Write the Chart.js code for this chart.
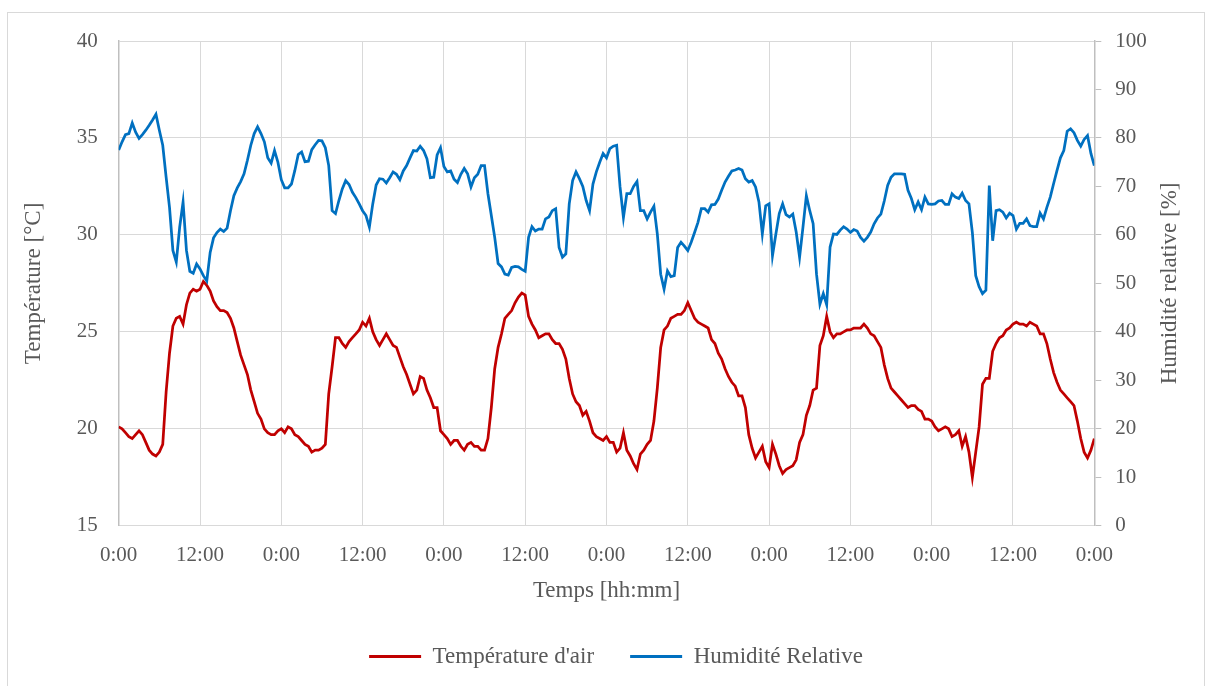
<!DOCTYPE html>
<html>
<head>
<meta charset="utf-8">
<script src="https://cdn.jsdelivr.net/npm/chart.js@4.4.1/dist/chart.umd.min.js"></script>
<style>
  html, body { margin: 0; padding: 0; background: #ffffff; }
  #wrap { position: relative; width: 1213px; height: 686px; overflow: hidden; }
  #frame { position: absolute; left: 7px; top: 12px; width: 1198px; height: 690px; border: 1px solid #d9d9d9; box-sizing: border-box; }
  #c { position: absolute; left: 0; top: 0; }
</style>
</head>
<body>
<div id="wrap">
  <div id="frame"></div>
  <canvas id="c" width="1213" height="686"></canvas>
</div>
<script>
// ---- data (one reading every 30 minutes, 6 days) ----
const stepHours = 0.5;
const tickLabels = ['0:00','12:00','0:00','12:00','0:00','12:00','0:00','12:00','0:00','12:00','0:00','12:00','0:00'];
const seriesNames = ["Température d'air", 'Humidité Relative'];
const axisTitles = { x: 'Temps [hh:mm]', left: 'Température [°C]', right: 'Humidité relative [%]' };

const temperature = [
  20.1,20.0,19.8,19.6,19.5,19.7,19.9,19.7,19.3,18.9,18.7,18.6,18.8,19.2,21.9,23.9,25.3,25.7,25.8,25.4,26.4,27.0,27.2,27.1,27.2,27.6,27.4,27.1,26.6,26.3,26.1,26.1,26.0,25.7,25.2,24.5,
  23.8,23.3,22.8,22.0,21.4,20.8,20.5,20.0,19.8,19.7,19.7,19.9,20.0,19.8,20.1,20.0,19.7,19.6,19.4,19.2,19.1,18.8,18.9,18.9,19.0,19.2,21.8,23.2,24.7,24.7,24.4,24.2,24.5,24.7,24.9,25.1,
  25.5,25.3,25.7,25.0,24.6,24.3,24.6,24.9,24.6,24.3,24.2,23.7,23.2,22.8,22.3,21.8,22.0,22.7,22.6,22.0,21.6,21.1,21.1,19.9,19.7,19.5,19.2,19.4,19.4,19.1,18.9,19.2,19.3,19.1,19.1,18.9,
  18.9,19.5,21.1,23.1,24.2,24.9,25.7,25.9,26.1,26.5,26.8,27.0,26.9,25.8,25.4,25.1,24.7,24.8,24.9,24.9,24.6,24.4,24.4,24.1,23.6,22.6,21.8,21.4,21.2,20.7,20.9,20.4,19.8,19.6,19.5,19.4,
  19.6,19.3,19.3,18.8,19.0,19.8,18.9,18.6,18.2,17.9,18.7,18.9,19.2,19.4,20.4,22.1,24.2,25.1,25.3,25.7,25.8,25.9,25.9,26.1,26.5,26.1,25.7,25.5,25.4,25.3,25.2,24.6,24.4,23.9,23.6,23.1,
  22.7,22.4,22.2,21.7,21.7,21.1,19.7,19.0,18.5,18.8,19.1,18.3,18.0,19.2,18.7,18.1,17.7,17.9,18.0,18.1,18.4,19.3,19.7,20.7,21.2,22.0,22.1,24.3,24.8,25.8,25.0,24.7,24.9,24.9,25.0,25.1,
  25.1,25.2,25.2,25.2,25.4,25.2,24.9,24.8,24.5,24.2,23.3,22.6,22.1,21.9,21.7,21.5,21.3,21.1,21.2,21.2,21.0,20.9,20.5,20.5,20.4,20.1,19.9,20.0,20.1,20.0,19.6,19.7,19.9,19.1,19.6,18.8,
  17.5,18.8,20.1,22.3,22.6,22.6,24.0,24.4,24.7,24.8,25.1,25.2,25.4,25.5,25.4,25.4,25.3,25.5,25.4,25.3,24.9,24.9,24.4,23.6,22.9,22.4,22.0,21.8,21.6,21.4,21.2,20.4,19.5,18.8,18.5,18.9,
  19.5
];

const humidity = [
  77.5,79.2,80.7,80.9,83.1,81.2,79.9,80.7,81.6,82.6,83.7,84.9,81.6,78.5,71.9,65.7,56.8,54.4,61.6,66.8,56.8,52.5,52.1,54.0,53.0,51.6,50.5,56.4,59.4,60.5,61.2,60.7,61.4,65.0,68.1,69.7,
  71.0,72.6,75.4,78.5,80.9,82.3,80.9,79.2,75.9,74.8,77.4,75.0,71.4,69.7,69.7,70.5,73.3,76.6,77.1,75.1,75.2,77.6,78.6,79.5,79.4,78.0,74.3,65.0,64.4,67.1,69.5,71.2,70.4,68.8,67.7,66.4,
  65.0,64.0,61.6,66.4,70.3,71.6,71.5,70.7,71.8,73.0,72.5,71.4,73.2,74.3,75.9,77.4,77.3,78.3,77.4,75.7,71.8,71.9,76.5,78.0,74.1,73.0,73.2,71.5,70.8,72.5,73.7,72.6,69.9,71.8,72.5,74.3,
  74.3,68.5,64.0,59.5,54.1,53.4,51.9,51.7,53.3,53.5,53.4,52.9,52.5,59.5,61.7,60.8,61.2,61.2,63.3,63.7,65.0,65.4,57.4,55.4,56.1,66.4,71.2,73.0,71.6,70.0,67.1,65.0,70.5,73.0,75.0,76.8,
  75.9,77.8,78.3,78.5,69.9,63.6,68.5,68.5,70.0,71.0,65.0,65.0,63.3,64.7,65.9,60.2,51.9,48.8,52.6,51.4,51.6,57.4,58.5,57.7,56.8,58.5,60.5,62.6,65.4,65.4,64.7,66.2,66.3,67.4,69.2,70.9,
  72.1,73.2,73.4,73.7,73.4,71.6,70.9,71.2,69.9,66.8,60.2,66.0,66.4,55.7,60.2,64.4,66.4,64.2,63.7,64.3,60.6,55.4,61.6,68.1,65.0,62.3,51.9,45.7,47.9,45.6,57.5,60.2,60.1,61.0,61.7,61.2,
  60.5,61.1,60.8,59.5,58.7,59.5,60.6,62.3,63.5,64.3,67.0,70.2,71.9,72.6,72.6,72.6,72.5,69.2,67.5,65.2,66.8,65.2,67.8,66.4,66.3,66.4,67.0,67.1,66.3,66.3,68.5,67.8,67.5,68.6,67.1,66.4,
  60.5,51.6,49.3,47.9,48.6,70.2,58.8,65.0,65.2,64.7,63.5,64.5,64.0,61.2,62.4,62.4,63.3,61.9,61.7,61.7,64.5,63.3,65.7,67.8,70.6,73.3,75.9,77.4,81.4,81.9,81.1,79.5,78.3,79.7,80.5,76.8,
  74.3
];

// ---- chart ----
const textColor = '#595959';
const gridColor = '#d9d9d9';
const axisColor = '#bfbfbf';
const fontFamily = '"Liberation Serif", "DejaVu Serif", serif';
const titleSize = 23;
Chart.defaults.font.family = fontFamily;
Chart.defaults.font.size = 21;
Chart.defaults.color = textColor;

const toPoints = arr => arr.map((v, i) => ({ x: i * stepHours, y: v }));

const rightTitlePlugin = {
  id: 'rightTitle',
  afterDraw(chart) {
    const ctx = chart.ctx;
    const s = chart.scales.y1;
    ctx.save();
    ctx.translate(1170, (s.top + s.bottom) / 2);
    ctx.rotate(-Math.PI / 2);
    ctx.font = titleSize + 'px ' + fontFamily;
    ctx.fillStyle = textColor;
    ctx.textAlign = 'center';
    ctx.textBaseline = 'middle';
    ctx.fillText(axisTitles.right, 0, 0);
    ctx.restore();
  }
};

new Chart(document.getElementById('c'), {
  type: 'line',
  data: {
    datasets: [
      { label: seriesNames[0], data: toPoints(temperature), yAxisID: 'y',
        borderColor: '#C00000', backgroundColor: '#C00000', borderWidth: 2.75,
        pointRadius: 0, tension: 0, order: 1 },
      { label: seriesNames[1], data: toPoints(humidity), yAxisID: 'y1',
        borderColor: '#0070C0', backgroundColor: '#0070C0', borderWidth: 2.75,
        pointRadius: 0, tension: 0, order: 0 }
    ]
  },
  options: {
    responsive: false,
    animation: false,
    layout: { padding: { left: 19, right: 0, top: 41, bottom: 8 } },
    plugins: {
      tooltip: { enabled: false },
      legend: {
        position: 'bottom',
        labels: {
          boxWidth: 52, boxHeight: 3, padding: 36,
          font: { size: titleSize },
          generateLabels(chart) {
            return chart.data.datasets.map((d, i) => ({
              text: d.label, fillStyle: d.borderColor, strokeStyle: d.borderColor,
              lineWidth: 0, hidden: false, datasetIndex: i, fontColor: textColor
            })).sort((a, b) => a.datasetIndex - b.datasetIndex);
          }
        }
      }
    },
    scales: {
      x: {
        type: 'linear', min: 0, max: 144,
        afterFit(s) { s.height = 83.2; },
        ticks: { stepSize: 12, padding: 17.2, maxRotation: 0, autoSkip: false,
          callback: (v) => tickLabels[Math.round(v / 12)] },
        grid: { color: gridColor, lineWidth: 1, drawTicks: false },
        border: { display: true, color: gridColor },
        title: { display: true, text: axisTitles.x, font: { size: titleSize }, padding: { top: 0, bottom: 4 } }
      },
      y: {
        type: 'linear', position: 'left', min: 15, max: 40,
        afterFit(s) { s.width = 99.7; },
        ticks: { stepSize: 5, padding: 21 },
        grid: { color: gridColor, lineWidth: 1, drawTicks: false },
        border: { display: true, color: axisColor, width: 1.5 },
        title: { display: true, text: axisTitles.left, font: { size: titleSize }, padding: { top: 1, bottom: 0 } }
      },
      y1: {
        type: 'linear', position: 'right', min: 0, max: 100,
        afterFit(s) { s.width = 118.7; },
        ticks: { stepSize: 10, padding: 14 },
        grid: { drawOnChartArea: false, drawTicks: true, tickLength: 7, color: axisColor, tickColor: axisColor },
        border: { display: true, color: axisColor, width: 1.5 }
      }
    }
  },
  plugins: [rightTitlePlugin]
});
</script>
</body>
</html>
